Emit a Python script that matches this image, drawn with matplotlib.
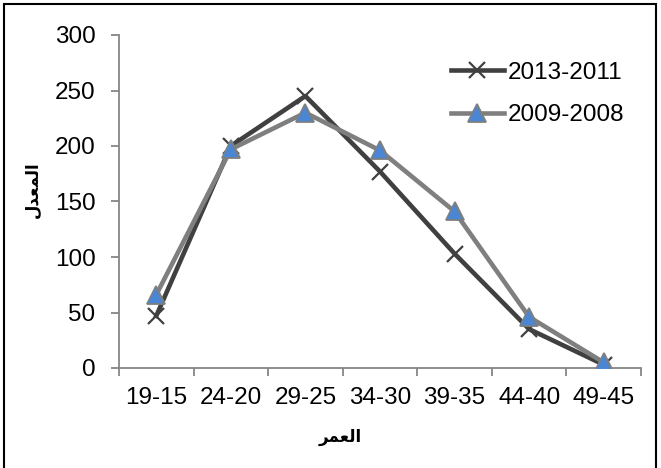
import matplotlib
matplotlib.use("Agg")
import matplotlib.pyplot as plt
from matplotlib.patches import Rectangle
import numpy as np

categories = ["19-15", "24-20", "29-25", "34-30", "39-35", "44-40", "49-45"]
series_2013_2011 = [47, 200, 245, 177, 103, 35, 3]
series_2009_2008 = [66, 197, 230, 196, 141, 46, 5]
yticks = [0, 50, 100, 150, 200, 250, 300]

# Arabic presentation forms in visual (left-to-right) order
xlabel_text = "\uFEAE\uFEE4\uFECC\uFEDF\uFE8D"          # العمر
ylabel_text = "\uFEDD\uFEAA\uFECC\uFEE4\uFEDF\uFE8D"    # المعدل

plt.rcParams['font.family'] = ['Liberation Sans', 'DejaVu Sans']

W, H = 661, 468
FS = 17.5
fig = plt.figure(figsize=(W / 100, H / 100), dpi=100)
ax = fig.add_axes([119 / W, (H - 368) / H, (641 - 119) / W, (368 - 35) / H])

x = np.arange(len(categories))
ax.plot(x, series_2013_2011, color='#404040', lw=3.3, marker='x', ms=12,
        mew=1.6, mec='#404040', label='2013-2011', zorder=3)
ax.plot(x, series_2009_2008, color='#7f7f7f', lw=3.3, marker='^', ms=13,
        mfc='#4a86d4', mec='#7f7f7f', mew=1.3, label='2009-2008', zorder=4)

ax.set_xlim(-0.5, len(categories) - 0.5)
ax.set_ylim(0, 300)
ax.set_yticks(yticks)
ax.set_yticklabels([str(v) for v in yticks], fontsize=FS)
ax.set_xticks(np.arange(-0.5, len(categories), 1.0))
ax.set_xticklabels([])
ax.set_xticks(x, minor=True)
ax.set_xticklabels(categories, minor=True, fontsize=FS)
ax.tick_params(axis='x', which='minor', length=0, pad=14)
ax.tick_params(axis='x', which='major', length=6, width=1.3, color='#868686')
ax.tick_params(axis='y', length=6, width=1.3, color='#868686', pad=11)

for s in ['top', 'right']:
    ax.spines[s].set_visible(False)
for s in ['left', 'bottom']:
    ax.spines[s].set_color('#868686')
    ax.spines[s].set_linewidth(1.3)

fig.text(340 / W, 1 - 437 / H, xlabel_text, family=['DejaVu Sans'], fontweight='bold',
         fontsize=12, ha='center', va='center')
fig.text(33 / W, 1 - 190 / H, ylabel_text, family=['DejaVu Sans'], fontweight='bold',
         fontsize=12, rotation=90, ha='center', va='center')

leg = ax.legend(loc='upper right', bbox_to_anchor=(634 / W, 1 - 52 / H),
                bbox_transform=fig.transFigure, frameon=False, fontsize=FS,
                handlelength=2.2, handletextpad=0.15, labelspacing=0.85,
                borderaxespad=0)

fig.patches.append(Rectangle((4 / W, -0.1), (656 - 4) / W, 1.1 - 4 / H,
                             transform=fig.transFigure, fill=False,
                             edgecolor='black', lw=1.5))

fig.savefig("out.png", dpi=100)
